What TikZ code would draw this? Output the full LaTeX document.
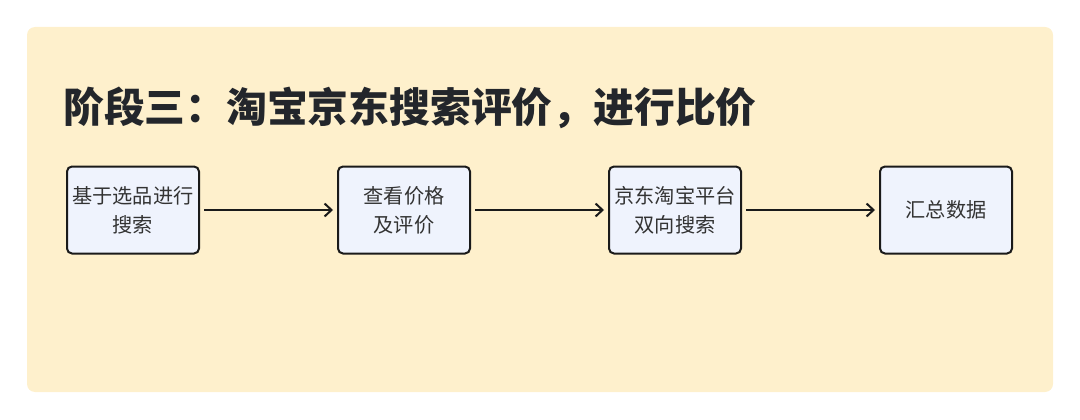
\documentclass[tikz,border=0pt]{standalone}
\usepackage{fontspec}
\newfontfamily\cjk{Noto Sans CJK SC}
\usetikzlibrary{positioning, arrows.meta}
\definecolor{bgyellow}{HTML}{FEF0CC}
\definecolor{boxfill}{HTML}{EFF3FD}
\definecolor{linecol}{HTML}{1A1A1A}
\definecolor{textcol}{HTML}{333333}
\definecolor{titlecol}{HTML}{23262B}
\tikzset{block/.style={draw=linecol, line width=2pt, fill=boxfill, rounded corners=5pt,
           minimum width=132pt, minimum height=87pt, inner sep=0pt, align=center,
           text=textcol, font=\cjk\fontsize{20.2}{29}\selectfont},
         >={Straight Barb[length=7pt,width=13pt]}}

\begin{document}
\begin{tikzpicture}[x=1pt, y=-1pt, node distance=137pt]
        \useasboundingbox (0,0) rectangle (1080,420);
        \fill[bgyellow, rounded corners=8pt] (27,27) rectangle (1053,392);
        \node[anchor=west, inner sep=0pt, text=titlecol,
              font=\cjk\bfseries\fontsize{40.8}{41}\selectfont] (title) at (63,108)
              {阶段三：淘宝京东搜索评价，进行比价};

        \node[block] (search) at (133,210) {基于选品进行\\搜索};
        \node[block, right= of search] (price) {查看价格\\及评价};
        \node[block, right= of price] (both) {京东淘宝平台\\双向搜索};
        \node[block, right= of both] (total) {汇总数据};

        \draw[->, line width=2pt, draw=linecol, shorten <=4pt, shorten >=4pt] (search) -- (price);
        \draw[->, line width=2pt, draw=linecol, shorten <=4pt, shorten >=4pt] (price) -- (both);
        \draw[->, line width=2pt, draw=linecol, shorten <=4pt, shorten >=4pt] (both) -- (total);
    \end{tikzpicture}
\end{document}
